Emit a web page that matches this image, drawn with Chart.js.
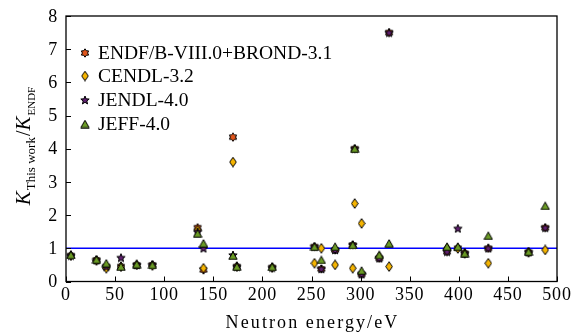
<!DOCTYPE html>
<html>
<head>
<meta charset="utf-8">
<script src="https://cdn.jsdelivr.net/npm/chart.js@4.4.1/dist/chart.umd.min.js"></script>
<style>
  html, body { margin: 0; padding: 0; background: #fff; }
  #wrap { width: 583px; height: 336px; }
</style>
</head>
<body>
<div id="wrap"><canvas id="chart" width="583" height="336"></canvas></div>
<script>
// --- data ---
const energies = [5, 31, 41, 56, 72, 88, 134, 140, 170, 174, 210, 253, 260, 274, 292, 294, 301, 319, 329, 388, 399, 406, 430, 471, 488];
const kEndf   = [0.78, 0.65, 0.45, 0.45, 0.50, 0.50, 1.62, 0.35, 4.35, 0.45, 0.42, 1.05, 0.38, 0.95, 1.10, 4.00, 0.22, 0.70, 7.50, 0.90, 1.00, 0.85, 1.00, 0.88, 1.62];
const kCendl  = [0.78, 0.63, 0.40, 0.45, 0.50, 0.48, 1.55, 0.40, 3.60, 0.45, 0.42, 0.55, 1.00, 0.50, 0.40, 2.35, 1.75, 0.75, 0.45, 1.00, 1.00, 0.85, 0.55, 0.88, 0.95];
const kJendl  = [0.78, 0.64, 0.45, 0.72, 0.50, 0.50, 1.50, 1.00, 0.80, 0.45, 0.42, 1.05, 0.38, 0.95, 1.10, 4.00, 0.22, 0.70, 7.50, 0.90, 1.60, 0.85, 1.00, 0.88, 1.62];
const kJeff   = [0.80, 0.66, 0.55, 0.45, 0.52, 0.50, 1.45, 1.15, 0.78, 0.45, 0.44, 1.05, 0.65, 1.05, 1.10, 4.00, 0.33, 0.80, 1.15, 1.05, 1.05, 0.85, 1.38, 0.90, 2.28];
const refX = [0, 500];
const refY = [1, 1];
const xTicks = [0, 50, 100, 150, 200, 250, 300, 350, 400, 450, 500];
const yTicks = [0, 1, 2, 3, 4, 5, 6, 7, 8];
const labels = ["ENDF/B-VIII.0+BROND-3.1", "CENDL-3.2", "JENDL-4.0", "JEFF-4.0"];

const SERIF = "'Liberation Serif', 'DejaVu Serif', serif";

// --- marker images ---
function makeMarker(w, h, pts, fill) {
    const c = document.createElement("canvas");
    c.width = w; c.height = h;
    const g = c.getContext("2d");
    g.beginPath();
    pts.forEach((p, i) => i ? g.lineTo(p[0], p[1]) : g.moveTo(p[0], p[1]));
    g.closePath();
    g.fillStyle = fill;
    g.fill();
    g.lineWidth = 1;
    g.strokeStyle = "#000";
    g.stroke();
    return c;
}
function starPts(cx, cy, n, ro, ri) {
    const p = [];
    for (let i = 0; i < 2 * n; i++) {
        const r = i % 2 ? ri : ro;
        const a = -Math.PI / 2 + i * Math.PI / n;
        p.push([cx + r * Math.cos(a), cy + r * Math.sin(a)]);
    }
    return p;
}
const mkEndf  = makeMarker(10, 10, starPts(5, 5, 6, 4.2, 2.6), "#e0561c");
const mkCendl = makeMarker(8, 11, [[4, 0.7], [7.3, 5.5], [4, 10.3], [0.7, 5.5]], "#f5b400");
const mkJendl = makeMarker(10, 10, starPts(5, 5.4, 5, 4.4, 1.9), "#5e1f6e");
const mkJeff  = makeMarker(10, 9, [[5, 0.8], [9.2, 8.2], [0.8, 8.2]], "#6b9b25");
const markers = [mkEndf, mkCendl, mkJendl, mkJeff];

const pts = vals => energies.map((e, i) => ({ x: e, y: vals[i] }));

// --- frame, inward ticks, tick labels, titles, legend ---
const decor = {
    id: "decor",
    afterDraw(chart) {
        const { ctx, chartArea: a, scales: { x, y } } = chart;
        ctx.save();
        ctx.strokeStyle = "#000";
        ctx.lineWidth = 1.3;
        ctx.strokeRect(a.left, a.top, a.right - a.left, a.bottom - a.top);
        ctx.lineWidth = 1;
        ctx.beginPath();
        xTicks.forEach(v => {
            const px = Math.round(x.getPixelForValue(v)) + 0.5;
            ctx.moveTo(px, a.bottom); ctx.lineTo(px, a.bottom - 5);
        });
        yTicks.forEach(v => {
            const py = Math.round(y.getPixelForValue(v)) + 0.5;
            ctx.moveTo(a.left, py); ctx.lineTo(a.left + 5, py);
        });
        ctx.stroke();

        // tick labels
        ctx.fillStyle = "#000";
        ctx.font = "18px " + SERIF;
        ctx.letterSpacing = "0.8px";
        ctx.textBaseline = "middle";
        ctx.textAlign = "center";
        xTicks.forEach(v => ctx.fillText(String(v), x.getPixelForValue(v), a.bottom + 14));
        ctx.textAlign = "right";
        yTicks.forEach(v => ctx.fillText(String(v), a.left - 8, y.getPixelForValue(v) + 1));

        // x title
        ctx.font = "18px " + SERIF;
        ctx.letterSpacing = "2.1px";
        ctx.textAlign = "center";
        ctx.fillText("Neutron energy/eV", (a.left + a.right) / 2 + 1, 323);
        ctx.letterSpacing = "0px";

        // y title
        const parts = [
            ["K", "italic 21px " + SERIF, 0, 1],
            ["This work", "13px " + SERIF, 5, 1],
            ["/", "20px " + SERIF, 0, 0],
            ["K", "italic 21px " + SERIF, 0, 1],
            ["ENDF", "11px " + SERIF, 5, 0]
        ];
        ctx.textAlign = "left";
        ctx.textBaseline = "alphabetic";
        let total = 0;
        parts.forEach(p => { ctx.font = p[1]; total += ctx.measureText(p[0]).width + p[3]; });
        ctx.translate(30, 146);
        ctx.rotate(-Math.PI / 2);
        let cx = -total / 2;
        parts.forEach(p => {
            ctx.font = p[1];
            ctx.fillText(p[0], cx, p[2]);
            cx += ctx.measureText(p[0]).width + p[3];
        });
        ctx.setTransform(1, 0, 0, 1, 0, 0);

        // legend
        const rows = [53, 76, 100, 124];
        ctx.font = "19.5px " + SERIF;
        ctx.textBaseline = "middle";
        labels.forEach((t, i) => {
            const m = markers[i];
            ctx.drawImage(m, 85 - m.width / 2, rows[i] - m.height / 2);
            ctx.fillText(t, 98, rows[i] + 1);
        });
        ctx.restore();
    }
};

new Chart(document.getElementById("chart"), {
    type: "scatter",
    data: {
        datasets: [
            { label: labels[3], data: pts(kJeff), pointStyle: mkJeff, pointRadius: 4, order: 0 },
            { label: labels[2], data: pts(kJendl), pointStyle: mkJendl, pointRadius: 4, order: 1 },
            { label: labels[1], data: pts(kCendl), pointStyle: mkCendl, pointRadius: 4, order: 2 },
            { label: labels[0], data: pts(kEndf), pointStyle: mkEndf, pointRadius: 4, order: 3 },
            {
                label: "ref", data: refX.map((v, i) => ({ x: v, y: refY[i] })),
                showLine: true, borderColor: "#0000ff", borderWidth: 1.5, pointRadius: 0, order: 10
            }
        ]
    },
    options: {
        responsive: false,
        animation: false,
        layout: { padding: { top: 16, right: 26, left: 0, bottom: 0 } },
        plugins: { legend: { display: false }, tooltip: { enabled: false } },
        scales: {
            x: {
                type: "linear", min: 0, max: 500,
                afterFit: s => { s.height = 54.5; },
                grid: { display: false, drawTicks: false },
                border: { display: false },
                ticks: { display: false }
            },
            y: {
                type: "linear", min: 0, max: 8,
                afterFit: s => { s.width = 66; },
                grid: { display: false, drawTicks: false },
                border: { display: false },
                ticks: { display: false }
            }
        }
    },
    plugins: [decor]
});
</script>
</body>
</html>
